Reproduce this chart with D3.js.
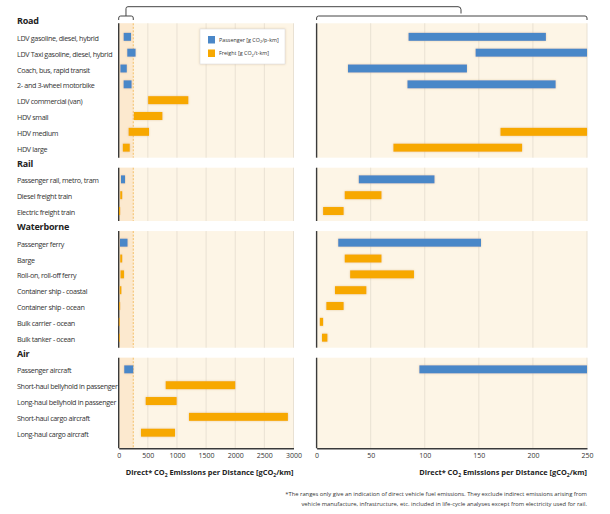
<!DOCTYPE html>
<html><head><meta charset="utf-8">
<script src="https://cdn.jsdelivr.net/npm/d3@7"></script>
<style>body{margin:0;background:#fff}svg{display:block}text{font-family:"Open Sans","Noto Sans",sans-serif}</style>
</head><body><svg id="c" width="610" height="514"></svg>
<script>
// ---- data ----
const groups = ["Road","Rail","Waterborne","Air"];
const roadCats = ["LDV gasoline, diesel, hybrid","LDV Taxi gasoline, diesel, hybrid","Coach, bus, rapid transit","2- and 3-wheel motorbike","LDV commercial (van)","HDV small","HDV medium","HDV large"];
const roadType = ["P","P","P","P","F","F","F","F"];
const roadLow  = [85,147,29,84,505,260,170,71];
const roadHigh = [212,290,139,221,1195,750,520,190];
const railCats = ["Passenger rail, metro, tram","Diesel freight train","Electric freight train"];
const railType = ["P","F","F"];
const railLow  = [39,26,6];
const railHigh = [109,60,25];
const waterCats = ["Passenger ferry","Barge","Roll-on, roll-off ferry","Container ship  - coastal","Container ship - ocean","Bulk carrier - ocean","Bulk tanker - ocean"];
const waterType = ["P","F","F","F","F","F","F"];
const waterLow  = [20,26,31,17,9,3,5];
const waterHigh = [152,60,90,46,25,6,10];
const airCats = ["Passenger aircraft","Short-haul bellyhold in passenger","Long-haul bellyhold in passenger","Short-haul cargo aircraft","Long-haul cargo aircraft"];
const airType = ["P","F","F","F","F"];
const airLow  = [95,806,463,1206,383];
const airHigh = [250,2000,995,2904,966];
const leftTicks = [0,500,1000,1500,2000,2500,3000];
const rightTicks = [0,50,100,150,200,250];
const legendLabels = [["Passenger [g CO","2","/p-km]"],["Freight [g CO","2","/t-km]"]];
const footnote = ["*The ranges only give an indication of direct vehicle fuel emissions. They exclude indirect emissions arising from",
                  "vehicle manufacture, infrastructure, etc. included in life-cycle analyses except from electricity used for rail."];

// ---- build ----
const groupData = [
  {name:"Road", cats:roadCats, type:roadType, lo:roadLow, hi:roadHigh},
  {name:"Rail", cats:railCats, type:railType, lo:railLow, hi:railHigh},
  {name:"Waterborne", cats:waterCats, type:waterType, lo:waterLow, hi:waterHigh},
  {name:"Air", cats:airCats, type:airType, lo:airLow, hi:airHigh}
];
const slots = [];
groupData.forEach(g=>{ slots.push("H:"+g.name); g.cats.forEach(c=>slots.push(g.name+":"+c)); });
const y = d3.scalePoint().domain(slots).range([21,432.7]);

const xL = d3.scaleLinear().domain([0,3000]).range([118.7,293.5]);
const xR = d3.scaleLinear().domain([0,250]).range([316.6,587]);

const colors = {P:"#4a87c8", F:"#f7a800"};
const svg = d3.select("#c");
const defs = svg.append("defs");
const f = defs.append("filter").attr("id","glow").attr("x","-20%").attr("y","-50%").attr("width","140%").attr("height","200%");
f.append("feGaussianBlur").attr("in","SourceAlpha").attr("stdDeviation",0.9).attr("result","b");
f.append("feFlood").attr("flood-color","#c8a060").attr("flood-opacity",0.45);
f.append("feComposite").attr("in2","b").attr("operator","in").attr("result","s");
const m = f.append("feMerge"); m.append("feMergeNode").attr("in","s"); m.append("feMergeNode").attr("in","SourceGraphic");

const barH = 8;
let axBottom = 0;
groupData.forEach((g,gi)=>{
  const hy = y("H:"+g.name);
  const top = gi===0 ? hy+2.3 : hy+4.2;
  const lastY = y(g.name+":"+g.cats[g.cats.length-1]);
  const bottom = lastY + (gi===3 ? 15.6 : 10);
  if(gi===3) axBottom = bottom;
  [[xL,3000,leftTicks],[xR,250,rightTicks]].forEach(([xs,mx,ticks],pi)=>{
    svg.append("rect").attr("x",xs(0)).attr("y",top).attr("width",xs(mx)-xs(0)).attr("height",bottom-top).attr("fill","#fdf5e6");
    if(pi===0){
      svg.append("rect").attr("x",xs(0)).attr("y",top).attr("width",xs(250)-xs(0)).attr("height",bottom-top).attr("fill","#fce9cf");
      svg.append("line").attr("x1",xs(250)).attr("x2",xs(250)).attr("y1",top).attr("y2",bottom)
        .attr("stroke","#f3b34a").attr("stroke-width",0.8).attr("stroke-dasharray","2,1.5");
    }
    ticks.slice(1).forEach(t=>{
      svg.append("line").attr("x1",xs(t)).attr("x2",xs(t)).attr("y1",top).attr("y2",bottom)
        .attr("stroke","#e9e1d3").attr("stroke-width",1);
    });
    svg.append("line").attr("x1",xs(0)).attr("x2",xs(0)).attr("y1",top).attr("y2",bottom)
      .attr("stroke","#3a3a3a").attr("stroke-width",1.4);
  });
  svg.append("text").attr("x",17).attr("y",hy).attr("dy","0.35em").attr("font-size",9).attr("font-weight","bold")
    .attr("letter-spacing",-0.2).attr("fill","#222").text(g.name);
  g.cats.forEach((c,i)=>{
    const cy = y(g.name+":"+c);
    svg.append("text").attr("x",17).attr("y",cy+1.5).attr("dy","0.35em").attr("font-size",7.2)
      .attr("fill","#333").attr("letter-spacing",-0.35).text(c);
    svg.append("rect").attr("x",xL(g.lo[i])).attr("y",cy-barH/2).attr("width",Math.max(0.8,xL(g.hi[i])-xL(g.lo[i])))
      .attr("height",barH).attr("fill",colors[g.type[i]]).attr("filter","url(#glow)");
    const lo = Math.min(g.lo[i],250), hi = Math.min(g.hi[i],250);
    if(lo<250) svg.append("rect").attr("x",xR(lo)).attr("y",cy-barH/2).attr("width",xR(hi)-xR(lo))
      .attr("height",barH).attr("fill",colors[g.type[i]]).attr("filter","url(#glow)");
  });
});

// bottom axes
[[xL,leftTicks],[xR,rightTicks]].forEach(([xs,ticks])=>{
  const ax = svg.append("g").attr("transform",`translate(0,${axBottom})`)
    .call(d3.axisBottom(xs).tickValues(ticks).tickSize(0).tickPadding(5).tickFormat(d3.format("d")));
  ax.select(".domain").attr("stroke","#3a3a3a").attr("stroke-width",1.4);
  ax.selectAll("text").attr("font-size",7).attr("fill","#333").attr("font-family","Open Sans, sans-serif");
  const t = svg.append("text").attr("x",xs.range()[1]).attr("y",axBottom+26.5).attr("text-anchor","end")
    .attr("font-size",7.4).attr("font-weight","bold").attr("fill","#222");
  t.append("tspan").text("Direct* CO");
  t.append("tspan").attr("font-size",5).attr("dy",2).text("2");
  t.append("tspan").attr("dy",-2).text(" Emissions per Distance [gCO");
  t.append("tspan").attr("font-size",5).attr("dy",2).text("2");
  t.append("tspan").attr("dy",-2).text("/km]");
});

// legend
const lg = svg.append("g");
lg.append("rect").attr("x",200).attr("y",29).attr("width",85).attr("height",35).attr("fill","#fff")
  .attr("stroke","#ddd").attr("stroke-width",0.6).attr("filter","url(#glow)");
["P","F"].forEach((k,i)=>{
  const ly = 40 + i*13.5;
  lg.append("rect").attr("x",208).attr("y",ly-4).attr("width",7).attr("height",7.5).attr("fill",colors[k]);
  const t = lg.append("text").attr("x",219).attr("y",ly).attr("dy","0.35em").attr("font-size",5.4).attr("fill","#333");
  t.append("tspan").text(legendLabels[i][0]);
  t.append("tspan").attr("font-size",3.8).attr("dy",1.2).text(legendLabels[i][1]);
  t.append("tspan").attr("dy",-1.2).text(legendLabels[i][2]);
});

// brackets
const br = svg.append("g").attr("fill","none").attr("stroke","#444").attr("stroke-width",1);
const bY = 16, r = 2;
br.append("path").attr("d",`M${xL(0)},${bY+4} V${bY+r} Q${xL(0)},${bY} ${xL(0)+r},${bY} H${xL(250)-r} Q${xL(250)},${bY} ${xL(250)},${bY+r} V${bY+4}`);
const mid = (xL(0)+xL(250))/2;
br.append("path").attr("d",`M${mid},${bY} V${6.7+r} Q${mid},6.7 ${mid+r},6.7 H${458} Q${461},6.7 ${461},${9.7} V${13.5}`);
br.append("path").attr("d",`M${xR(0)},${bY+4} V${bY+r} Q${xR(0)},${bY} ${xR(0)+r},${bY} H${xR(250)-r} Q${xR(250)},${bY} ${xR(250)},${bY+r} V${bY+4}`);

// footnote
footnote.forEach((s,i)=>{
  svg.append("text").attr("x",587).attr("y",494.3+i*9.5).attr("dy","0.35em").attr("text-anchor","end")
    .attr("font-size",5.8).attr("fill","#333").text(s);
});
</script></body></html>
